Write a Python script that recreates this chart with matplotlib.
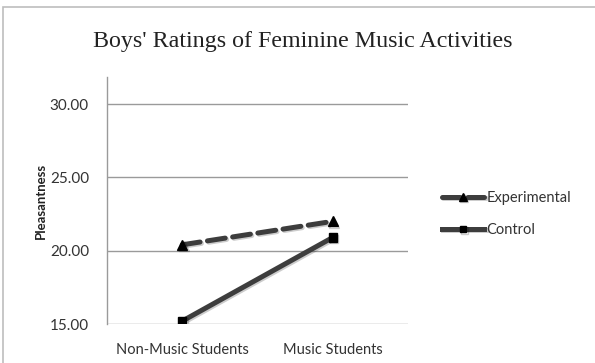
import matplotlib
matplotlib.use("Agg")
import matplotlib.pyplot as plt
from matplotlib.patches import Rectangle
import matplotlib.patheffects as pe

categories = ["Non-Music Students", "Music Students"]
experimental = [20.4, 22.0]
control = [15.2, 20.9]
yticks = [15.0, 20.0, 25.0, 30.0]

W, H = 595, 363
fig = plt.figure(figsize=(W / 100, H / 100), dpi=100)
font = "Lato"

# outer chart border
fig.patches.append(Rectangle((3 / W, -0.01), 1.0, (H - 7) / H + 0.01,
                             transform=fig.transFigure, fill=False,
                             edgecolor="#bdbdbd", linewidth=1.2))

left, right = 107 / W, 408 / W
bottom, top = 1 - 324 / H, 1 - 77 / H
ax = fig.add_axes([left, bottom, right - left, top - bottom])

ax.set_xlim(-0.5, 1.5)
ymin, ymax = 15.0, 15.0 + (324 - 77) / (324 - 104) * 15
ax.set_ylim(ymin, ymax)

for y in yticks:
    ax.axhline(y, color="#9a9a9a", linewidth=1.0, zorder=1)

shadow = [pe.SimpleLineShadow(offset=(1, -1), alpha=0.2), pe.Normal()]
x = list(range(len(categories)))
ax.plot(x, experimental, color="#3d3d3d", linewidth=3.6, linestyle=(0, (3.6, 1.5)),
        dash_capstyle="round",
        marker="^", markersize=7, markerfacecolor="black", markeredgecolor="black",
        label="Experimental", zorder=3, path_effects=shadow)
ax.plot(x, control, color="#3d3d3d", linewidth=3.6, linestyle="-",
        marker="s", markersize=6, markerfacecolor="black", markeredgecolor="black",
        label="Control", zorder=3, path_effects=shadow)

ax.set_xticks(x)
ax.set_xticklabels(categories, fontsize=10.5, family=font, color="#333333")
ax.set_yticks(yticks)
ax.set_yticklabels([f"{v:.2f}" for v in yticks], fontsize=11, family=font, color="#333333")
ax.tick_params(axis="y", length=0, pad=13)
ax.tick_params(axis="x", length=0, pad=14)

for s in ["top", "right", "bottom"]:
    ax.spines[s].set_visible(False)
ax.spines["left"].set_color("#9a9a9a")
ax.spines["left"].set_linewidth(1.0)

ax.set_ylabel("Pleasantness", fontsize=9.5, family=font, fontweight="bold",
              color="#222222")
ax.yaxis.set_label_coords(-60 / (right - left) / W, (324 - 201) / (324 - 77))

fig.text(303 / W, 1 - 41 / H, "Boys' Ratings of Feminine Music Activities",
         ha="center", va="center", fontsize=17.3, family="Liberation Serif",
         color="#222222")

leg = fig.legend(loc="upper left", bbox_to_anchor=(436 / W, 1 - 185 / H),
                 frameon=False, prop={"family": font, "size": 10.5},
                 handlelength=2.9, handletextpad=0.15, labelspacing=1.25,
                 borderaxespad=0, markerscale=0.8)
for t in leg.get_texts():
    t.set_color("#333333")

fig.savefig("out.png", dpi=100)
